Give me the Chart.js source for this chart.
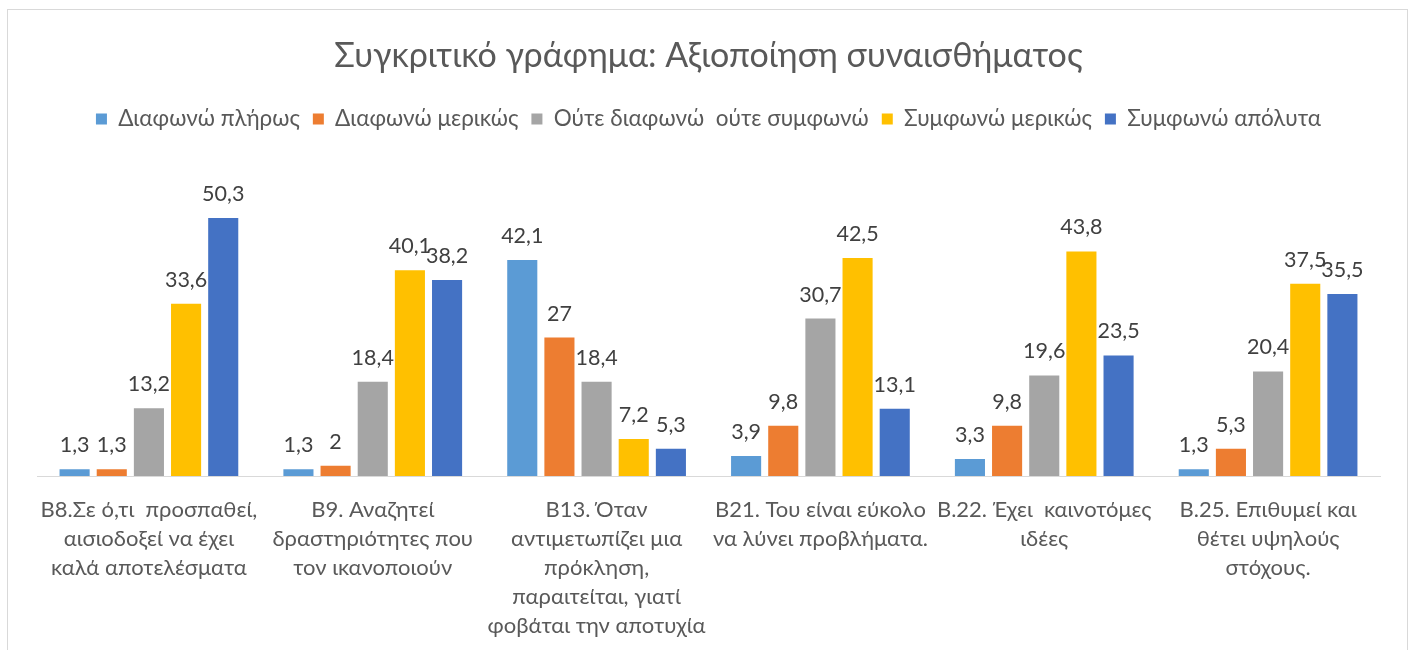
<!DOCTYPE html>
<html>
<head>
<meta charset="utf-8">
<script src="https://cdn.jsdelivr.net/npm/chart.js@4"></script>
<style>
  html, body { margin: 0; padding: 0; background: #fff; }
  #wrap { position: relative; width: 1411px; height: 650px; overflow: hidden; }
  #frame { position: absolute; left: 7px; top: 9px; width: 1399px; height: 700px; border: 1px solid #d9d9d9; pointer-events: none; }
  canvas { position: absolute; left: 0; top: 0; }
</style>
</head>
<body>
<div id="wrap">
  <canvas id="chart" width="1411" height="650"></canvas>
  <div id="frame"></div>
</div>
<script>
  const categories = [
    ["B8.Σε ό,τι  προσπαθεί,", "αισιοδοξεί να έχει", "καλά αποτελέσματα"],
    ["B9. Αναζητεί", "δραστηριότητες που", "τον ικανοποιούν"],
    ["B13. Όταν", "αντιμετωπίζει μια", "πρόκληση,", "παραιτείται, γιατί", "φοβάται την αποτυχία"],
    ["B21. Του είναι εύκολο", "να λύνει προβλήματα."],
    ["B.22. Έχει  καινοτόμες", "ιδέες"],
    ["B.25. Επιθυμεί και", "θέτει υψηλούς", "στόχους."]
  ];

  const disagreeFully = [1.3, 1.3, 42.1, 3.9, 3.3, 1.3];
  const disagreePartly = [1.3, 2, 27, 9.8, 9.8, 5.3];
  const neutral = [13.2, 18.4, 18.4, 30.7, 19.6, 20.4];
  const agreePartly = [33.6, 40.1, 7.2, 42.5, 43.8, 37.5];
  const agreeFully = [50.3, 38.2, 5.3, 13.1, 23.5, 35.5];

  const FONT = "Lato";

  const valueLabels = {
    id: 'valueLabels',
    afterDatasetsDraw(chart) {
      const ctx = chart.ctx;
      ctx.save();
      ctx.font = '21.5px ' + FONT;
      ctx.fillStyle = '#404040';
      ctx.textAlign = 'center';
      ctx.textBaseline = 'alphabetic';
      chart.data.datasets.forEach((ds, i) => {
        chart.getDatasetMeta(i).data.forEach((bar, j) => {
          ctx.fillText(String(ds.data[j]).replace('.', ','), bar.x, bar.y - 17);
        });
      });
      ctx.restore();
    }
  };

  // push the plot area down below the legend, like the original
  const legendSpace = {
    id: 'legendSpace',
    beforeInit(chart) {
      const fit = chart.legend.fit;
      chart.legend.fit = function () {
        fit.bind(chart.legend)();
        this.height += 28;
      };
    }
  };

  const makeSet = (label, data, color) => ({
    label, data, backgroundColor: color, borderWidth: 0,
    categoryPercentage: 0.83, barPercentage: 0.81
  });

  new Chart(document.getElementById("chart").getContext("2d"), {
    type: 'bar',
    data: {
      labels: categories,
      datasets: [
        makeSet("Διαφωνώ πλήρως", disagreeFully, '#5B9BD5'),
        makeSet("Διαφωνώ μερικώς", disagreePartly, '#ED7D31'),
        makeSet("Ούτε διαφωνώ  ούτε συμφωνώ", neutral, '#A5A5A5'),
        makeSet("Συμφωνώ μερικώς", agreePartly, '#FFC000'),
        makeSet("Συμφωνώ απόλυτα", agreeFully, '#4472C4')
      ]
    },
    options: {
      responsive: false,
      animation: false,
      layout: { padding: { left: 37, right: 31, top: 0, bottom: 0 } },
      plugins: {
        title: {
          display: true,
          text: "Συγκριτικό γράφημα: Αξιοποίηση συναισθήματος",
          color: '#595959',
          font: { family: FONT, size: 34, weight: 'normal' },
          padding: { top: 36, bottom: 18 }
        },
        legend: {
          display: true,
          labels: {
            color: '#595959',
            font: { family: FONT, size: 22.5 },
            boxWidth: 11,
            boxHeight: 11,
            padding: 13
          }
        },
        tooltip: { enabled: false }
      },
      scales: {
        x: {
          grid: { display: false, drawTicks: false },
          border: { display: true, color: '#d9d9d9', width: 1 },
          ticks: {
            color: '#595959',
            font: { family: FONT, size: 22, lineHeight: 1.32 },
            padding: 19,
            maxRotation: 0,
            autoSkip: false
          },
          afterFit: (scale) => { scale.height = 174; }
        },
        y: {
          display: false,
          min: 0,
          max: 60
        }
      }
    },
    plugins: [valueLabels, legendSpace]
  });
</script>
</body>
</html>
